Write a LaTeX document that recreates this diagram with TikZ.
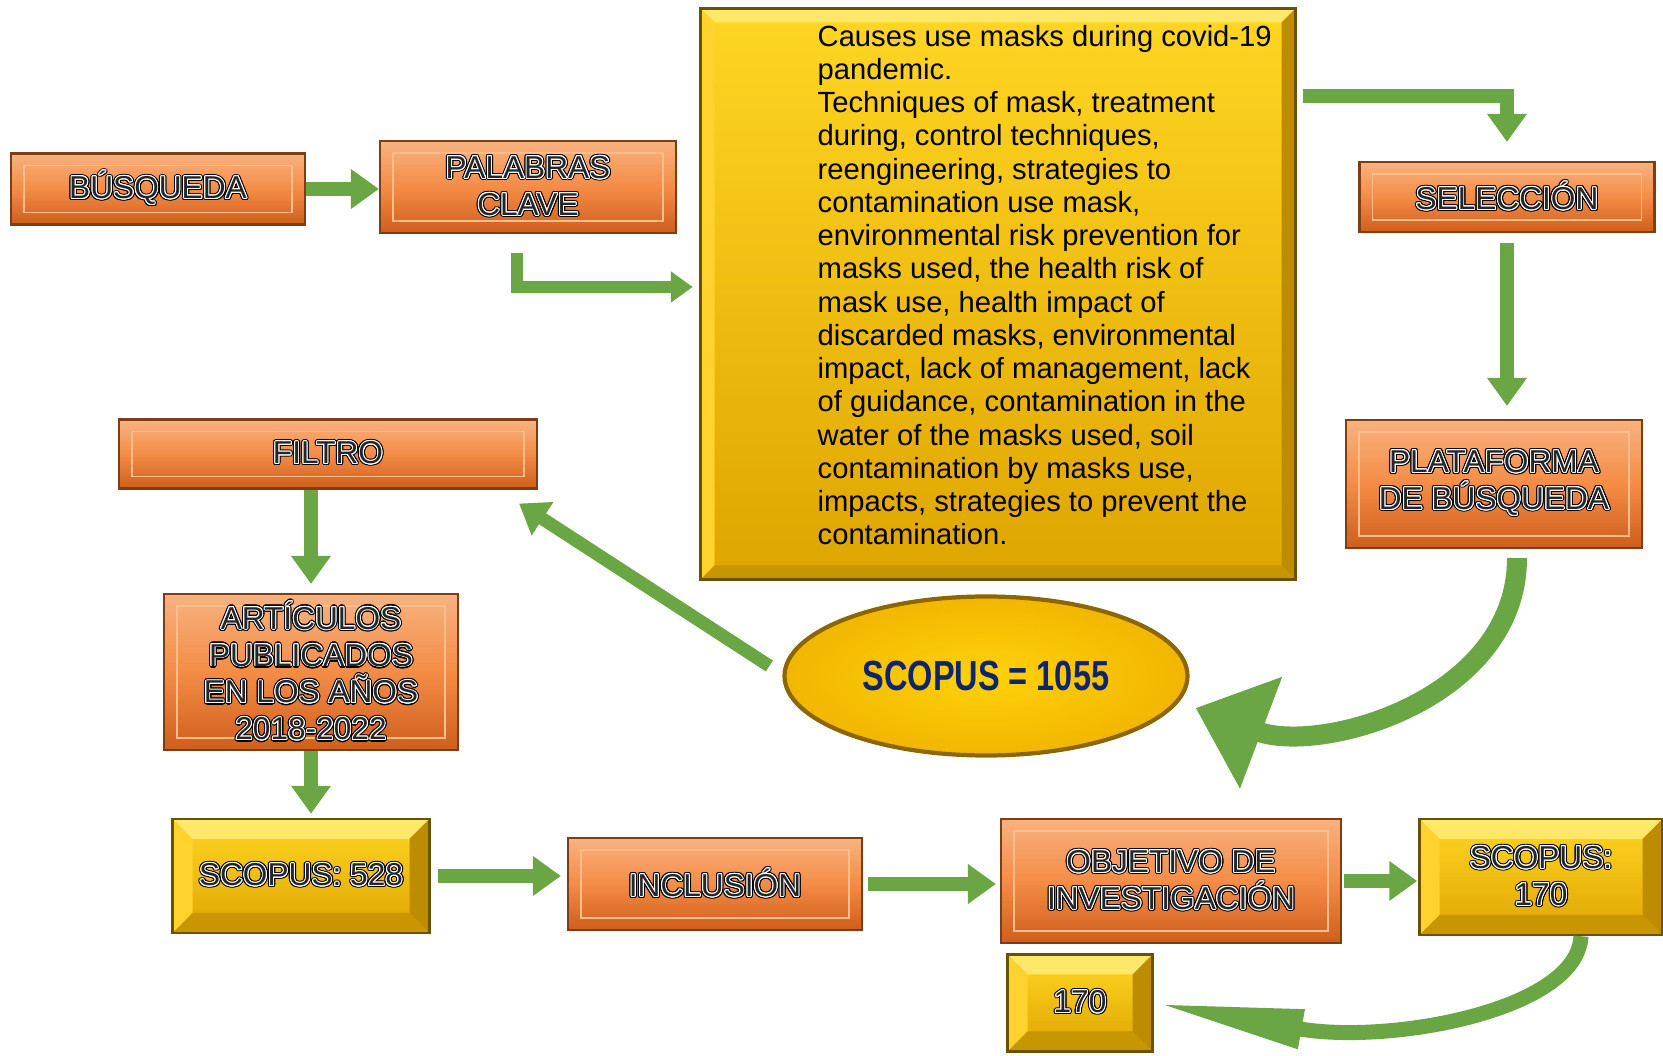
\documentclass[tikz,border=0pt]{standalone}
\usepackage{fontspec}
\setmainfont{Liberation Sans}
\newfontfamily\narrowfont[FakeStretch=0.77]{Liberation Sans}
\usepackage{contour}
\usetikzlibrary{arrows.meta,positioning,shapes.geometric}

\definecolor{orangetop}{RGB}{248,178,128}
\definecolor{orangemid}{RGB}{244,140,70}
\definecolor{orangebot}{RGB}{206,94,28}
\definecolor{orangeedge}{RGB}{125,62,22}
\definecolor{orangeinner}{RGB}{250,190,140}
\definecolor{goldtop}{RGB}{255,214,35}
\definecolor{goldbot}{RGB}{222,165,0}
\definecolor{goldedge}{RGB}{105,82,0}
\definecolor{goldhi}{RGB}{255,232,105}
\definecolor{goldleft}{RGB}{255,210,45}
\definecolor{goldright}{RGB}{190,140,0}
\definecolor{goldlow}{RGB}{200,150,0}
\definecolor{ovalin}{RGB}{255,210,10}
\definecolor{ovalout}{RGB}{242,182,0}
\definecolor{ovaledge}{RGB}{140,102,0}
\definecolor{arrgreen}{RGB}{106,166,68}
\definecolor{scopusblue}{RGB}{14,36,108}

% outlined caption: black rim, white line, dark core
\newcommand{\olab}[1]{\rlap{\contourlength{0.62pt}\color{black}\contour{black}{#1}}{\contourlength{0.27pt}\color{black!85}\contour{white}{#1}}}

\tikzset{
      orangebox/.style={
        rectangle,
        draw=orangeedge,
        line width=0.6pt,
        top color=orangetop, bottom color=orangebot, middle color=orangemid,
        align=center,
        inner sep=0pt,
        font=\fontsize{9}{10.5}\selectfont,
        path picture={
          \draw[orangeinner, line width=0.5pt]
            ([shift={(1.3mm,-1.2mm)}]path picture bounding box.north west) rectangle
            ([shift={(-1.3mm,1.2mm)}]path picture bounding box.south east);
        }
      },
      goldbox/.style={
        rectangle,
        draw=goldedge,
        line width=0.7pt,
        top color=goldtop, bottom color=goldbot,
        align=center,
        inner sep=0pt,
        font=\fontsize{9}{10.5}\selectfont,
        path picture={
          \fill[goldhi] (path picture bounding box.north west) -- (path picture bounding box.north east)
            -- ([shift={(-#1,-#1)}]path picture bounding box.north east) -- ([shift={(#1,-#1)}]path picture bounding box.north west) -- cycle;
          \fill[goldleft] (path picture bounding box.north west) -- (path picture bounding box.south west)
            -- ([shift={(#1,#1)}]path picture bounding box.south west) -- ([shift={(#1,-#1)}]path picture bounding box.north west) -- cycle;
          \fill[goldright] (path picture bounding box.north east) -- (path picture bounding box.south east)
            -- ([shift={(-#1,#1)}]path picture bounding box.south east) -- ([shift={(-#1,-#1)}]path picture bounding box.north east) -- cycle;
          \fill[goldlow] (path picture bounding box.south west) -- (path picture bounding box.south east)
            -- ([shift={(-#1,#1)}]path picture bounding box.south east) -- ([shift={(#1,#1)}]path picture bounding box.south west) -- cycle;
        }
      },
      goldbox/.default=2mm,
      kwtext/.style={
        align=left,
        inner sep=0pt,
        text=black,
        font=\fontsize{8.3}{9.46}\selectfont
      },
      scopusoval/.style={
        ellipse,
        draw=ovaledge,
        line width=1.2pt,
        inner color=ovalin, outer color=ovalout,
        text=scopusblue,
        font=\narrowfont\bfseries\fontsize{12}{14}\selectfont
      },
      flowarrow/.style={
        draw=arrgreen,
        line width=1.4mm,
        -{Triangle[length=2.8mm,width=3.8mm]}
      },
      bigcurve/.style={
        draw=arrgreen,
        line width=2mm,
        -{Triangle[length=7mm,width=11.5mm]}
      },
      smallcurve/.style={
        draw=arrgreen,
        line width=1.5mm,
        -{Triangle[length=15mm,width=3.6mm]}
      }
    }

\begin{document}
\begin{tikzpicture}[x=0.1mm,y=-0.1mm]
    \useasboundingbox (0,0) rectangle (1663,1056);
    % upper row
    \node[orangebox, minimum width=29.4mm, minimum height=7.1mm] (busq) at (158,189) {\olab{BÚSQUEDA}};
    \node[orangebox, minimum width=29.6mm, minimum height=9.2mm] (pal) at (528,187) {\olab{PALABRAS}\\\olab{CLAVE}};
    \node[goldbox=1.4mm, minimum width=59.5mm, minimum height=57.1mm, line width=1pt] (kw) at (998,294) {};
    \node[kwtext, anchor=west] (kwt) at (817,285) {Causes use masks during covid-19\\pandemic.\\Techniques of mask, treatment\\during, control techniques,\\reengineering, strategies to\\contamination use mask,\\environmental risk prevention for\\masks used, the health risk of\\mask use, health impact of\\discarded masks, environmental\\impact, lack of management, lack\\of guidance, contamination in the\\water of the masks used, soil\\contamination by masks use,\\impacts, strategies to prevent the\\contamination.};
    \node[orangebox, minimum width=29.5mm, minimum height=7.0mm] (sel) at (1507,197) {\olab{SELECCIÓN}};
    \node[orangebox, minimum width=29.6mm, minimum height=12.8mm] (plat) at (1494,484) {\olab{PLATAFORMA}\\\olab{DE BÚSQUEDA}};
    % middle
    \node[orangebox, minimum width=41.8mm, minimum height=6.9mm] (filtro) at (328,454) {\olab{FILTRO}};
    \node[orangebox, minimum width=29.4mm, minimum height=15.6mm] (art) at (311,672) {\olab{ARTÍCULOS}\\\olab{PUBLICADOS}\\\olab{EN LOS AÑOS}\\\olab{2018-2022}};
    \node[scopusoval, minimum width=40.3mm, minimum height=15.9mm] (ell) at (986,676) {SCOPUS = 1055};
    % lower row
    \node[goldbox, minimum width=25.7mm, minimum height=11.4mm] (s528) at (301,876) {\olab{SCOPUS: 528}};
    \node[orangebox, minimum width=29.4mm, minimum height=9.2mm] (inc) at (715,884) {\olab{INCLUSIÓN}};
    \node[orangebox, minimum width=34.0mm, minimum height=12.4mm] (obj) at (1171,881) {\olab{OBJETIVO DE}\\\olab{INVESTIGACIÓN}};
    \node[goldbox, minimum width=24.3mm, minimum height=11.6mm] (s170) at (1541,877) {\olab{SCOPUS:}\\\olab{170}};
    \node[goldbox, minimum width=14.5mm, minimum height=9.7mm] (n170) at (1080,1003) {\olab{170}};

    % connectors
    \draw[flowarrow] (busq.east) -- (busq.east-|pal.west);
    \draw[flowarrow, line width=1.25mm, -{Triangle[length=2.2mm,width=3mm]}, shorten >=0.6mm] ([shift={(-1.1mm,-1.9mm)}]pal.south) |- ([yshift=0.7mm]kw.west);
    \draw[flowarrow, shorten >=1.9mm] ([shift={(0.6mm,-8.9mm)}]kw.north east) -| (sel.north);
    \draw[flowarrow, shorten <=1mm, shorten >=1.3mm] (sel.south) -- (sel.south|-plat.north);
    \draw[bigcurve] ([shift={(2.3mm,-0.9mm)}]plat.south) .. controls (1517,700) and (1320,755) .. ([shift={(0.6mm,-3.2mm)}]ell.east);
    \draw[flowarrow, line width=1.3mm] ([shift={(-1.3mm,1mm)}]ell.west) -- ([shift={(-1.9mm,-1.4mm)}]filtro.south east);
    \draw[flowarrow, shorten >=0.9mm] (art.north|-filtro.south) -- (art.north);
    \draw[flowarrow, shorten >=0.4mm] (art.south) -- (art.south|-s528.north);
    \draw[flowarrow, shorten <=0.7mm, shorten >=0.6mm] (s528.east) -- (s528.east-|inc.west);
    \draw[flowarrow, shorten <=0.5mm, shorten >=0.4mm] (inc.east) -- (inc.east-|obj.west);
    \draw[flowarrow, shorten <=0.2mm, shorten >=0.1mm] (obj.east) -- (obj.east-|s170.west);
    \draw[smallcurve] (s170.-56) .. controls (1578,1010) and (1390,1045) .. (n170.east);
\end{tikzpicture}
\end{document}
